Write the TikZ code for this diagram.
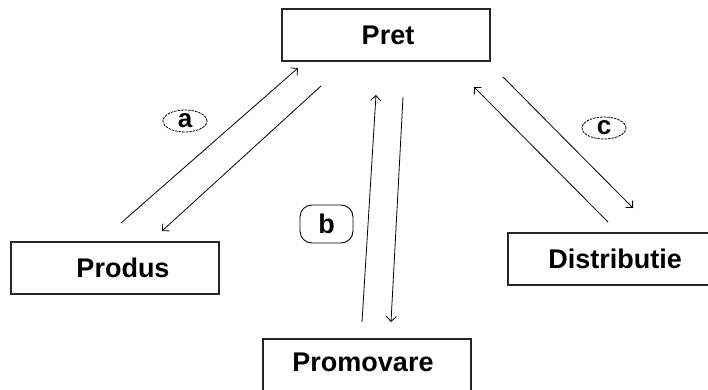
\documentclass[tikz,border=0pt]{standalone}
\usepackage{fontspec}
\setmainfont{Liberation Sans}
\usetikzlibrary{arrows.meta,shapes.geometric}
\begin{document}
\begin{tikzpicture}[x=1pt,y=-1pt,
  box/.style={draw=black!85,line width=1.3pt,minimum width=208pt,minimum height=52pt,inner sep=0pt},
  boxtext/.style={font=\fontsize{27}{27}\selectfont\bfseries,inner sep=0pt},
  conn/.style={line width=0.8pt,-{Straight Barb[length=5pt,width=10pt,line width=0.8pt]}},
  plain/.style={line width=0.8pt},
  dlabel/.style={ellipse,draw,line width=0.8pt,dash pattern=on 2.5pt off 1pt,minimum width=44pt,minimum height=22pt,inner sep=0pt,font=\fontsize{26}{26}\selectfont\bfseries},
  blabel/.style={rectangle,rounded corners=12pt,draw,line width=0.9pt,minimum width=53pt,minimum height=38pt,inner sep=0pt,font=\fontsize{27}{27}\selectfont\bfseries}
]
\useasboundingbox (0,0) rectangle (708,390);
\clip (0,0) rectangle (708,390);
% boxes
\node[box] (pret) at (386,35) {};
\node[boxtext] (pretT) at (388,35) {Pret};
\node[box] (produs) at (115,268) {};
\node[boxtext] (produsT) at (123,268) {Produs};
\node[box] (promovare) at (367,365) {};
\node[boxtext] (promovareT) at (363,362) {Promovare};
\node[box] (distributie) at (612,259) {};
\node[boxtext] (distributieT) at (615,259) {Distributie};
% connector end points
\coordinate (a1s) at (121,223); \coordinate (a1e) at (298,68);
\coordinate (a2s) at (321,86);  \coordinate (a2e) at (162,231);
\coordinate (b1s) at (362,322); \coordinate (b1e) at (376,95);
\coordinate (b2s) at (403,97);  \coordinate (b2e) at (391,322);
\coordinate (c1s) at (608,222); \coordinate (c1e) at (474,87);
\coordinate (c2s) at (503,77);  \coordinate (c2e) at (633,208);
% connectors
\draw[conn] (a1s) -- (a1e);
\draw[conn] (a2s) -- (a2e);
\draw[conn] (b1s) -- (b1e);
\draw[conn] (b2s) -- (b2e);
\draw[conn] (c1s) -- (c1e);
\draw[conn] (c2s) -- (c2e);
% labels
\node[dlabel] (la) at (185,121) {a};
\node[blabel] (lb) at (326.5,224) {b};
\node[dlabel] (lc) at (604,128) {c};
\end{tikzpicture}
\end{document}
